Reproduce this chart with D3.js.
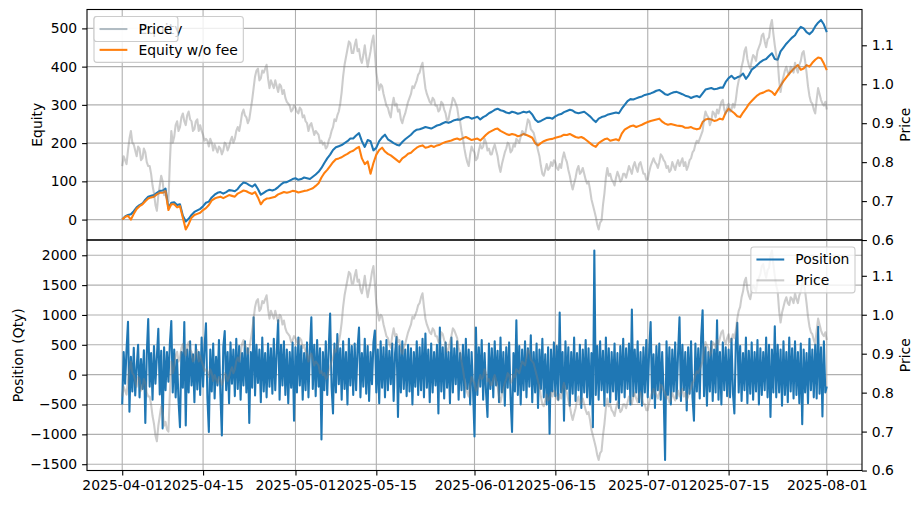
<!DOCTYPE html>
<html>
<head>
<meta charset="utf-8">
<script src="https://cdn.jsdelivr.net/npm/d3@7"></script>
<style>
  body { margin: 0; background: #fff; }
  svg { font-family: "DejaVu Sans", sans-serif; font-size: 13.9px; }
</style>
</head>
<body>
<script>
// ---- data ----
const startDate = "2025-04-01";
const xTickLabels = ["2025-04-01", "2025-04-15", "2025-05-01", "2025-05-15", "2025-06-01",
                     "2025-06-15", "2025-07-01", "2025-07-15", "2025-08-01"];
const equityTicks = [0, 100, 200, 300, 400, 500];
const positionTicks = [-1500, -1000, -500, 0, 500, 1000, 1500, 2000];
const priceTicks = [0.6, 0.7, 0.8, 0.9, 1.0, 1.1];

// price, one value every 6h (one row = 5 days)
const price = [
  0.790,0.815,0.805,0.795,0.830,0.860,0.880,0.850,0.845,0.830,0.815,0.840,0.835,0.805,0.810,0.835,0.825,0.800,0.790,0.790,
  0.770,0.740,0.720,0.690,0.675,0.715,0.740,0.765,0.750,0.715,0.725,0.705,0.700,0.800,0.880,0.850,0.865,0.895,0.905,0.880,
  0.890,0.915,0.925,0.905,0.895,0.920,0.930,0.910,0.905,0.880,0.885,0.905,0.910,0.880,0.895,0.880,0.870,0.855,0.860,0.855,
  0.840,0.860,0.850,0.830,0.845,0.835,0.825,0.840,0.835,0.820,0.830,0.850,0.845,0.830,0.840,0.855,0.865,0.850,0.860,0.880,
  0.890,0.880,0.900,0.925,0.935,0.920,0.915,0.900,0.910,0.935,0.960,0.990,1.020,1.035,1.040,1.010,1.015,1.035,1.030,1.040,
  1.050,1.015,0.990,1.010,1.000,0.990,1.010,0.995,0.980,1.000,0.995,0.975,0.985,0.965,0.955,0.950,0.945,0.930,0.935,0.945,
  0.940,0.930,0.925,0.940,0.935,0.915,0.920,0.905,0.900,0.880,0.895,0.900,0.885,0.870,0.880,0.875,0.870,0.850,0.855,0.845,
  0.850,0.835,0.840,0.855,0.865,0.880,0.890,0.910,0.905,0.920,0.930,0.950,0.980,1.020,1.050,1.070,1.090,1.110,1.105,1.080,
  1.080,1.100,1.115,1.085,1.090,1.065,1.055,1.075,1.100,1.070,1.045,1.065,1.085,1.110,1.125,1.080,1.030,1.005,0.985,1.000,
  0.995,0.975,0.960,0.945,0.940,0.925,0.915,0.945,0.965,0.945,0.950,0.930,0.935,0.910,0.900,0.915,0.925,0.940,0.955,0.965,
  0.975,0.995,0.990,1.000,1.010,1.025,1.030,1.045,1.055,1.020,0.990,0.975,0.965,0.955,0.950,0.965,0.960,0.945,0.945,0.930,
  0.935,0.955,0.950,0.935,0.925,0.905,0.910,0.930,0.945,0.965,0.960,0.950,0.940,0.915,0.905,0.880,0.860,0.835,0.815,0.800,
  0.790,0.820,0.840,0.830,0.825,0.805,0.810,0.830,0.845,0.835,0.840,0.860,0.850,0.830,0.835,0.820,0.820,0.835,0.845,0.830,
  0.815,0.790,0.775,0.795,0.810,0.825,0.835,0.850,0.845,0.825,0.830,0.845,0.840,0.860,0.855,0.850,0.865,0.880,0.875,0.870,
  0.890,0.910,0.905,0.885,0.880,0.875,0.860,0.845,0.830,0.815,0.790,0.770,0.765,0.780,0.795,0.780,0.785,0.800,0.790,0.805,
  0.800,0.785,0.780,0.795,0.785,0.810,0.825,0.810,0.800,0.780,0.765,0.745,0.730,0.745,0.760,0.780,0.790,0.770,0.775,0.785,
  0.770,0.755,0.745,0.750,0.730,0.705,0.690,0.675,0.660,0.640,0.627,0.645,0.650,0.690,0.720,0.760,0.785,0.765,0.770,0.755,
  0.750,0.740,0.760,0.775,0.765,0.750,0.755,0.770,0.770,0.760,0.775,0.790,0.780,0.770,0.790,0.800,0.785,0.775,0.795,0.800,
  0.785,0.770,0.770,0.755,0.755,0.775,0.790,0.800,0.810,0.800,0.795,0.785,0.800,0.820,0.815,0.805,0.800,0.785,0.790,0.775,
  0.780,0.800,0.790,0.780,0.795,0.805,0.790,0.800,0.810,0.790,0.800,0.780,0.790,0.805,0.810,0.825,0.830,0.845,0.855,0.850,
  0.860,0.870,0.880,0.910,0.930,0.920,0.915,0.895,0.905,0.930,0.925,0.915,0.935,0.925,0.940,0.955,0.960,0.935,0.925,0.940,
  0.950,0.930,0.935,0.950,0.940,0.960,0.990,1.010,1.020,1.045,1.060,1.085,1.095,1.065,1.050,1.040,1.060,1.075,1.070,1.060,
  1.085,1.095,1.105,1.125,1.130,1.110,1.095,1.115,1.120,1.150,1.165,1.130,1.100,1.075,1.060,1.010,0.980,1.005,1.020,1.035,
  1.045,1.030,1.025,1.045,1.040,1.030,1.055,1.040,1.030,1.050,1.060,1.080,1.085,1.060,1.030,0.995,0.970,0.955,0.950,0.935,
  0.925,0.960,0.990,0.975,0.960,0.950,0.945,0.955,0.935
];

// equity, one value every 12h (one row = 10 days)
const equity = [
  0,8,12,14,22,32,38,42,52,60,62,64,70,75,76,81,30,44,45,38,
  40,10,-5,2,12,20,24,28,35,44,47,58,65,70,72,68,72,77,76,74,
  80,90,97,95,90,86,92,80,65,70,75,78,76,79,85,92,97,98,102,106,
  108,104,106,110,108,106,112,118,125,135,148,160,170,182,189,192,195,200,205,212,
  212,220,226,205,190,208,205,181,188,205,215,222,210,205,200,196,194,203,210,216,
  222,230,235,236,239,242,240,238,242,246,248,252,255,253,256,260,262,261,265,268,
  268,264,266,269,262,268,272,278,282,287,290,286,284,280,278,282,280,277,279,282,
  280,283,275,262,255,258,262,266,266,264,270,274,276,281,284,287,285,280,278,280,
  282,276,270,262,255,264,268,270,274,276,278,280,278,290,300,310,315,314,317,320,
  322,326,328,330,333,337,339,334,328,326,330,333,334,331,328,324,322,318,321,323,
  320,330,340,342,344,341,342,345,345,360,370,376,368,372,375,382,368,378,392,398,
  405,412,417,420,428,435,420,418,440,450,460,468,476,482,495,504,500,490,485,492,
  505,515,522,510,490
];
const equityNoFee = [
  0,7,10,0,15,28,35,40,48,55,58,60,66,70,70,74,25,40,40,32,
  35,5,-26,-12,5,12,15,18,25,30,38,50,55,58,60,56,60,64,62,60,
  68,72,76,74,70,67,72,58,40,50,55,56,58,60,66,69,72,70,72,75,
  74,71,73,75,76,79,82,88,95,110,122,130,140,150,158,160,163,168,172,177,
  180,186,190,160,145,152,120,148,170,182,188,178,172,168,162,156,150,160,165,172,
  175,182,188,192,194,188,190,193,190,194,196,200,203,205,207,210,212,209,213,216,
  212,208,210,212,207,214,222,228,232,236,238,232,228,224,221,224,222,218,220,224,
  221,218,214,200,194,200,205,208,210,211,214,216,218,222,221,224,220,216,214,216,
  212,206,200,194,190,200,205,210,212,206,208,210,207,225,235,240,244,246,242,245,
  248,252,255,258,260,262,264,256,251,248,250,248,246,245,244,240,240,242,238,236,
  238,255,262,264,262,258,260,264,262,280,290,284,278,270,268,280,290,302,310,318,
  325,330,332,336,338,334,326,338,350,362,372,382,390,398,404,392,395,404,400,410,
  418,424,422,408,391
];

// position, one value every 6h (one row = 5 days)
const position = [
  -500,380,-150,420,885,-620,300,-280,450,-350,120,500,-380,260,-240,410,-810,350,930,-200,
  360,-420,480,-150,300,770,-330,400,-900,460,-260,380,-120,520,900,-300,420,-380,250,-440,
  -880,380,-220,880,-850,420,-300,560,-180,340,-460,500,-250,380,-340,620,-200,460,860,-380,
  -960,420,-280,520,-400,300,-180,580,-320,-1020,460,730,-260,380,-480,540,-150,420,-360,600,
  -240,480,-420,360,-180,560,-300,440,-810,380,-220,960,-350,500,-140,420,-460,620,-280,360,
  -380,520,-200,440,-320,600,-260,380,910,-420,500,-180,560,-340,420,-480,380,-220,540,-770,
  460,-300,620,-180,480,-420,360,-260,540,-380,420,960,-240,500,-360,580,-200,440,-1085,380,
  -260,560,-340,420,1025,-200,-650,520,-300,680,-160,440,-420,560,-240,380,-500,600,-180,480,
  -340,520,-260,440,790,-380,360,-200,600,-320,480,-440,380,-160,540,740,-300,420,-480,560,
  -220,460,-380,580,-260,400,-160,520,-440,360,630,-710,480,-300,560,-240,420,-360,500,-280,
  440,-500,380,-200,560,-340,460,-260,600,-380,690,-220,420,-460,520,-300,380,-180,500,-650,
  790,-280,460,-400,540,-220,380,-480,620,-300,440,-160,560,-420,360,-260,500,-380,600,-240,
  420,-500,380,-260,-1035,790,-340,460,-200,580,-420,360,-300,-710,520,-240,440,-380,560,-180,
  400,-460,620,-300,380,-520,460,-220,540,-400,-960,360,-280,910,-340,480,-500,420,-260,560,
  -380,440,-200,660,-460,380,-300,520,-560,420,-240,600,-380,340,-500,460,-990,420,-280,540,
  -360,480,-420,1040,-300,380,-770,560,-240,460,-520,380,-320,620,-440,360,-260,500,-560,420,
  -300,580,-380,440,-500,360,-880,2080,-340,480,-420,560,-260,400,-520,620,-300,440,-460,380,
  -280,520,-420,360,-560,480,-300,600,-380,440,-240,520,-500,1090,-360,420,-300,560,-460,380,
  -520,460,-300,580,-380,420,880,-400,340,-560,480,-260,520,-420,380,-300,-1430,560,-340,460,
  -500,420,-280,540,-400,360,960,-440,500,-260,380,-600,460,-320,560,-380,-770,520,-280,440,
  -400,620,1080,-360,460,-520,380,-280,560,-440,420,-300,910,-420,380,-500,540,-260,460,-360,
  420,-380,600,-300,-650,520,870,-300,480,-440,360,-260,620,-480,400,-320,540,-420,380,-280,
  580,-500,440,-340,380,-260,620,-380,500,-710,420,-300,810,-380,500,-300,420,-520,560,-340,
  380,-460,620,-280,440,-400,560,-340,380,-480,520,-830,420,-300,360,-480,600,-260,420,-380,
  500,-400,800,-320,460,-700,560,-300,-200
];

// ---- layout ----
const W = 922, H = 505;
const L = 87, R = 862;
const topT = 9.5, midY = 240, botB = 470.5;
const FS = 13.9;
const BLUE = "#1f77b4", ORANGE = "#ff7f0e";

const HOUR = 3600e3;
const t0 = new Date(startDate + "T00:00:00Z").getTime();
const priceData = price.map((v, i) => ({t: new Date(t0 + i * 6 * HOUR), v}));
const equityData = equity.map((v, i) => ({t: new Date(t0 + i * 12 * HOUR), v}));
const noFeeData = equityNoFee.map((v, i) => ({t: new Date(t0 + i * 12 * HOUR), v}));
const positionData = position.map((v, i) => ({t: new Date(t0 + i * 6 * HOUR), v}));

// matplotlib-like 5% margins
function pad(e) { const r = e[1] - e[0]; return [e[0] - 0.05 * r, e[1] + 0.05 * r]; }

const tLast = t0 + (equity.length - 1) * 12 * HOUR;
const x = d3.scaleUtc().domain(pad([t0, tLast]).map(d => new Date(d))).range([L, R]);
const yEq = d3.scaleLinear().domain(pad(d3.extent(equity.concat(equityNoFee)))).range([midY, topT]);
const yPriceTop = d3.scaleLinear().domain(pad(d3.extent(price))).range([midY, topT]);
const yPos = d3.scaleLinear().domain(pad(d3.extent(position))).range([botB, midY]);
const yPriceBot = yPriceTop.copy().range([botB, midY]);

const xTicks = xTickLabels.map(s => new Date(s + "T00:00:00Z"));

const svg = d3.select("body").append("svg")
  .attr("width", W).attr("height", H);

svg.append("rect").attr("width", W).attr("height", H).attr("fill", "#fff");

const defs = svg.append("defs");
defs.append("clipPath").attr("id", "clipTop").append("rect")
  .attr("x", L).attr("y", topT).attr("width", R - L).attr("height", midY - topT);
defs.append("clipPath").attr("id", "clipBot").append("rect")
  .attr("x", L).attr("y", midY).attr("width", R - L).attr("height", botB - midY);

function grid(y, ticks, y0, y1) {
  const g = svg.append("g").attr("stroke", "#b0b0b0").attr("stroke-width", 1.1);
  g.selectAll(".v").data(xTicks).enter().append("line")
    .attr("x1", d => x(d)).attr("x2", d => x(d))
    .attr("y1", y0).attr("y2", y1);
  g.selectAll(".h").data(ticks).enter().append("line")
    .attr("x1", L).attr("x2", R)
    .attr("y1", d => y(d)).attr("y2", d => y(d));
}

function drawLine(data, y, clip, color, opacity) {
  svg.append("path")
    .datum(data)
    .attr("clip-path", "url(#" + clip + ")")
    .attr("fill", "none")
    .attr("stroke", color)
    .attr("stroke-opacity", opacity)
    .attr("stroke-width", 2.08)
    .attr("stroke-linejoin", "round")
    .attr("d", d3.line().x(d => x(d.t)).y(d => y(d.v)));
}

function styleAxis(g) {
  g.attr("font-size", null).attr("font-family", null);
  g.select(".domain").remove();
  g.selectAll(".tick line").attr("stroke", "#000").attr("stroke-width", 1.1);
  g.selectAll(".tick text").attr("fill", "#000");
}

function frame(y0, y1) {
  svg.append("rect")
    .attr("x", L).attr("y", y0).attr("width", R - L).attr("height", y1 - y0)
    .attr("fill", "none").attr("stroke", "#000").attr("stroke-width", 1.1);
}

function yLabel(text, cx, cy) {
  svg.append("text")
    .attr("transform", "translate(" + cx + "," + cy + ") rotate(-90)")
    .attr("text-anchor", "middle")
    .attr("dy", "0.35em")
    .text(text);
}

function legend(items, ax, ay, alignRight) {
  const p = 0.4 * FS, hl = 2 * FS, htp = 0.8 * FS, gap = 0.5 * FS;
  const g = svg.append("g");
  const box = g.append("rect");
  let maxW = 0;
  const texts = items.map(it => {
    const t = g.append("text").attr("dy", "0.35em").text(it.label);
    maxW = Math.max(maxW, t.node().getComputedTextLength());
    return t;
  });
  const w = p + hl + htp + maxW + p;
  const h = 2 * p + items.length * FS + (items.length - 1) * gap;
  const bx = alignRight ? ax - w : ax;
  box.attr("x", bx).attr("y", ay).attr("width", w).attr("height", h)
    .attr("rx", 2.8).attr("fill", "#fff").attr("fill-opacity", 0.8)
    .attr("stroke", "#cccccc").attr("stroke-width", 1.1);
  items.forEach((it, i) => {
    const cy = ay + p + FS / 2 + i * (FS + gap);
    g.append("line")
      .attr("x1", bx + p).attr("x2", bx + p + hl)
      .attr("y1", cy).attr("y2", cy)
      .attr("stroke", it.color).attr("stroke-opacity", it.opacity)
      .attr("stroke-width", 2.08);
    texts[i].attr("x", bx + p + hl + htp).attr("y", cy).raise();
  });
}

// ---- top panel: equity + price ----
grid(yEq, equityTicks, topT, midY);
drawLine(equityData, yEq, "clipTop", BLUE, 1);
drawLine(noFeeData, yEq, "clipTop", ORANGE, 1);
drawLine(priceData, yPriceTop, "clipTop", "gray", 0.4);
frame(topT, midY);

svg.append("g").attr("transform", "translate(" + L + ",0)")
  .call(d3.axisLeft(yEq).tickValues(equityTicks).tickSize(4.9).tickPadding(4.9).tickFormat(d3.format("d")))
  .call(styleAxis);
svg.append("g").attr("transform", "translate(" + R + ",0)")
  .call(d3.axisRight(yPriceTop).tickValues(priceTicks).tickSize(4.9).tickPadding(4.9).tickFormat(d3.format(".1f")))
  .call(styleAxis);

// ---- bottom panel: position + price ----
grid(yPos, positionTicks, midY, botB);
drawLine(positionData, yPos, "clipBot", BLUE, 1);
drawLine(priceData, yPriceBot, "clipBot", "gray", 0.4);
frame(midY, botB);

svg.append("g").attr("transform", "translate(" + L + ",0)")
  .call(d3.axisLeft(yPos).tickValues(positionTicks).tickSize(4.9).tickPadding(4.9).tickFormat(d3.format("d")))
  .call(styleAxis);
svg.append("g").attr("transform", "translate(" + R + ",0)")
  .call(d3.axisRight(yPriceBot).tickValues(priceTicks).tickSize(4.9).tickPadding(4.9).tickFormat(d3.format(".1f")))
  .call(styleAxis);
svg.append("g").attr("transform", "translate(0," + botB + ")")
  .call(d3.axisBottom(x).tickValues(xTicks).tickSize(4.9).tickPadding(4.9).tickFormat(d3.utcFormat("%Y-%m-%d")))
  .call(styleAxis);

// axis titles
yLabel("Equity", 37, (topT + midY) / 2);
yLabel("Position (Qty)", 18, (midY + botB) / 2);
yLabel("Price", 905, (topT + midY) / 2);
yLabel("Price", 905, (midY + botB) / 2);

// legends (the Price legend of the twin axis sits on top of the equity legend)
legend([{label: "Equity", color: BLUE, opacity: 1},
        {label: "Equity w/o fee", color: ORANGE, opacity: 1}], L + 7, topT + 7, false);
legend([{label: "Price", color: "gray", opacity: 0.4}], L + 7, topT + 7, false);
legend([{label: "Position", color: BLUE, opacity: 1},
        {label: "Price", color: "gray", opacity: 0.4}], R - 7, midY + 7, true);
</script>
</body>
</html>
